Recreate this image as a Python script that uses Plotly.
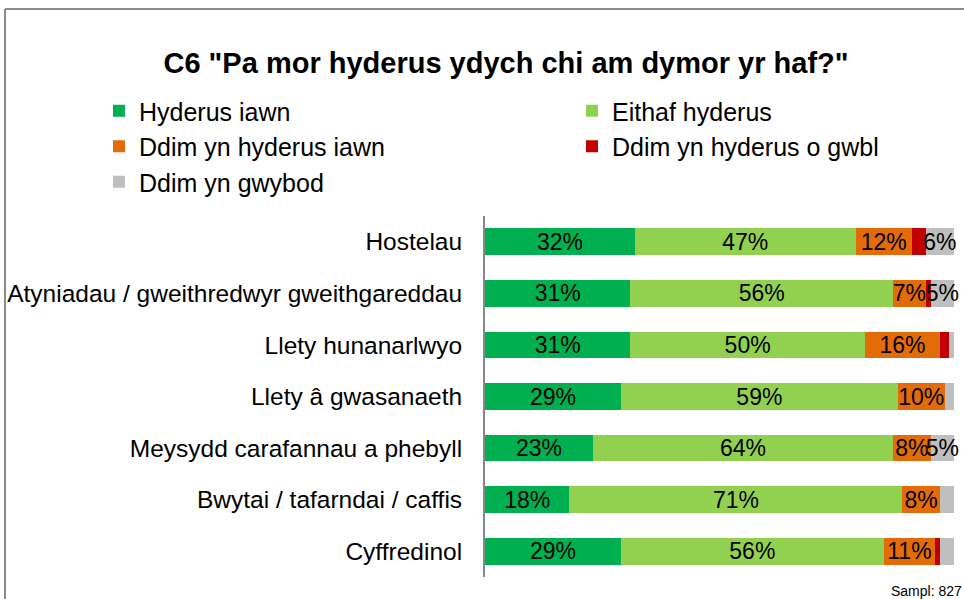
import plotly.graph_objects as go

categories = ["Hostelau", "Atyniadau / gweithredwyr gweithgareddau", "Llety hunanarlwyo",
              "Llety â gwasanaeth", "Meysydd carafannau a phebyll",
              "Bwytai / tafarndai / caffis", "Cyffredinol"]

series_names = ["Hyderus iawn", "Eithaf hyderus", "Ddim yn hyderus iawn",
                "Ddim yn hyderus o gwbl", "Ddim yn gwybod"]
hyderus_iawn = [32, 31, 31, 29, 23, 18, 29]
eithaf_hyderus = [47, 56, 50, 59, 64, 71, 56]
ddim_hyderus_iawn = [12, 7, 16, 10, 8, 8, 11]
ddim_hyderus_o_gwbl = [3, 1, 2, 0, 0, 0, 1]
ddim_gwybod = [6, 5, 1, 2, 5, 3, 3]

colors = ["#00B050", "#92D050", "#E36C09", "#C00000", "#BFBFBF"]
all_values = [hyderus_iawn, eithaf_hyderus, ddim_hyderus_iawn, ddim_hyderus_o_gwbl, ddim_gwybod]

W, H = 964, 599
L, R, T, B = 485, 10, 216, 22
PW, PH = W - L - R, H - T - B


def px_x(px):
    return (px - L) / PW


def px_y(py):
    return 1 - (py - T) / PH


fig = go.Figure()
for name, vals, col in zip(series_names, all_values, colors):
    fig.add_trace(go.Bar(
        y=categories, x=vals, name=name, orientation="h",
        marker=dict(color=col, line=dict(width=0)),
        text=[f"{v}%" if v >= 5 else "" for v in vals],
        textposition="inside", insidetextanchor="middle",
        textangle=0, constraintext="none", cliponaxis=False,
        textfont=dict(size=23, color="black", family="Liberation Sans, Arial"),
    ))

fig.update_layout(
    barmode="stack", bargap=0.48,
    width=W, height=H,
    margin=dict(l=L, r=R, t=T, b=B, autoexpand=False),
    paper_bgcolor="white", plot_bgcolor="white",
    font=dict(family="Liberation Sans, Arial", color="black"),
    title=dict(text='<b>C6 "Pa mor hyderus ydych chi am dymor yr haf?"</b>',
               x=506 / W, xanchor="center", y=1 - 63 / H, yanchor="middle",
               font=dict(size=29, color="black")),
    legend=dict(orientation="h", x=px_x(99), y=px_y(88), xanchor="left", yanchor="top",
                entrywidth=428, entrywidthmode="pixels",
                font=dict(size=25, color="black"), traceorder="normal",
                itemclick=False, bgcolor="rgba(0,0,0,0)"),
    xaxis=dict(range=[0, 100], visible=False, fixedrange=True),
    yaxis=dict(autorange="reversed", showline=True, linecolor="#888888", linewidth=2,
               ticks="", tickfont=dict(size=24.5, color="black"), ticklabelstandoff=16,
               showgrid=False, fixedrange=True),
    showlegend=True,
)

fig.add_annotation(text="Sampl: 827", xref="paper", yref="paper", x=px_x(964), y=px_y(581),
                   xanchor="right", yanchor="top", showarrow=False,
                   font=dict(size=14, color="black"))

# chart frame (top and left edges)
fig.add_shape(type="line", xref="paper", yref="paper",
              x0=px_x(5), x1=px_x(970), y0=px_y(9), y1=px_y(9),
              line=dict(color="#8c8c8c", width=2))
fig.add_shape(type="line", xref="paper", yref="paper",
              x0=px_x(5), x1=px_x(5), y0=px_y(9), y1=px_y(610),
              line=dict(color="#8c8c8c", width=2))

fig.write_html("out.html", config={"displayModeBar": False},
               post_script="document.body.style.margin='0';document.body.style.overflow='hidden';")
